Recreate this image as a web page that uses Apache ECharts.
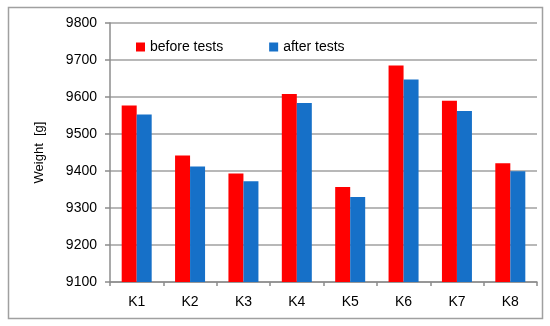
<!DOCTYPE html>
<html><head><meta charset="utf-8">
<script src="https://cdn.jsdelivr.net/npm/echarts@6/dist/echarts.min.js"></script>
<style>html,body{margin:0;padding:0;background:#fff}#c{width:550px;height:326px}</style>
</head><body><div id="c"></div>
<script>
const categories = ['K1','K2','K3','K4','K5','K6','K7','K8'];
const beforeTests = [9577, 9442, 9393, 9608, 9357, 9685, 9590, 9421];
const afterTests = [9553, 9412, 9372, 9584, 9330, 9647, 9562, 9399];
const yTicks = { min: 9100, max: 9800, interval: 100 };

const chart = echarts.init(document.getElementById('c'));
const font = 'Arial, "Liberation Sans", sans-serif';
chart.setOption({
  animation: false,
  backgroundColor: '#fff',
  graphic: [{ type: 'rect', shape: { x: 8.5, y: 7.5, width: 534, height: 311 }, style: { fill: 'none', stroke: '#a0a0a0', lineWidth: 1.5 }, silent: true }],
  grid: { left: 110, right: 13, top: 23, bottom: 44 },
  legend: {
    left: 131, top: 35, itemWidth: 9, itemHeight: 9, itemGap: 46,
    icon: 'rect',
    textStyle: { fontFamily: font, fontSize: 14, color: '#000' },
    data: ['before tests', 'after tests']
  },
  xAxis: {
    type: 'category', data: categories,
    axisLine: { lineStyle: { color: '#8c8c8c', width: 1.5 } },
    axisTick: { show: true, length: 4, lineStyle: { color: '#8c8c8c', width: 1.5 } },
    axisLabel: { fontFamily: font, fontSize: 14, color: '#000', margin: 13 }
  },
  yAxis: {
    type: 'value', min: yTicks.min, max: yTicks.max, interval: yTicks.interval,
    name: 'Weight  [g]', nameLocation: 'middle', nameGap: 64, nameRotate: 90,
    nameTextStyle: { fontFamily: font, fontSize: 13, color: '#000' },
    axisLine: { show: true, lineStyle: { color: '#8c8c8c', width: 1.5 } },
    axisTick: { show: true, length: 5, lineStyle: { color: '#8c8c8c', width: 1.5 } },
    axisLabel: { fontFamily: font, fontSize: 14, color: '#000', margin: 13, formatter: v => String(v) },
    splitLine: { lineStyle: { color: '#a0a0a0', width: 1.5 } }
  },
  series: [
    { name: 'before tests', type: 'bar', data: beforeTests, itemStyle: { color: '#ff0000' }, barWidth: 15, barGap: '0%' },
    { name: 'after tests', type: 'bar', data: afterTests, itemStyle: { color: '#1670c8' }, barWidth: 15, barGap: '0%' }
  ]
});
</script></body></html>
